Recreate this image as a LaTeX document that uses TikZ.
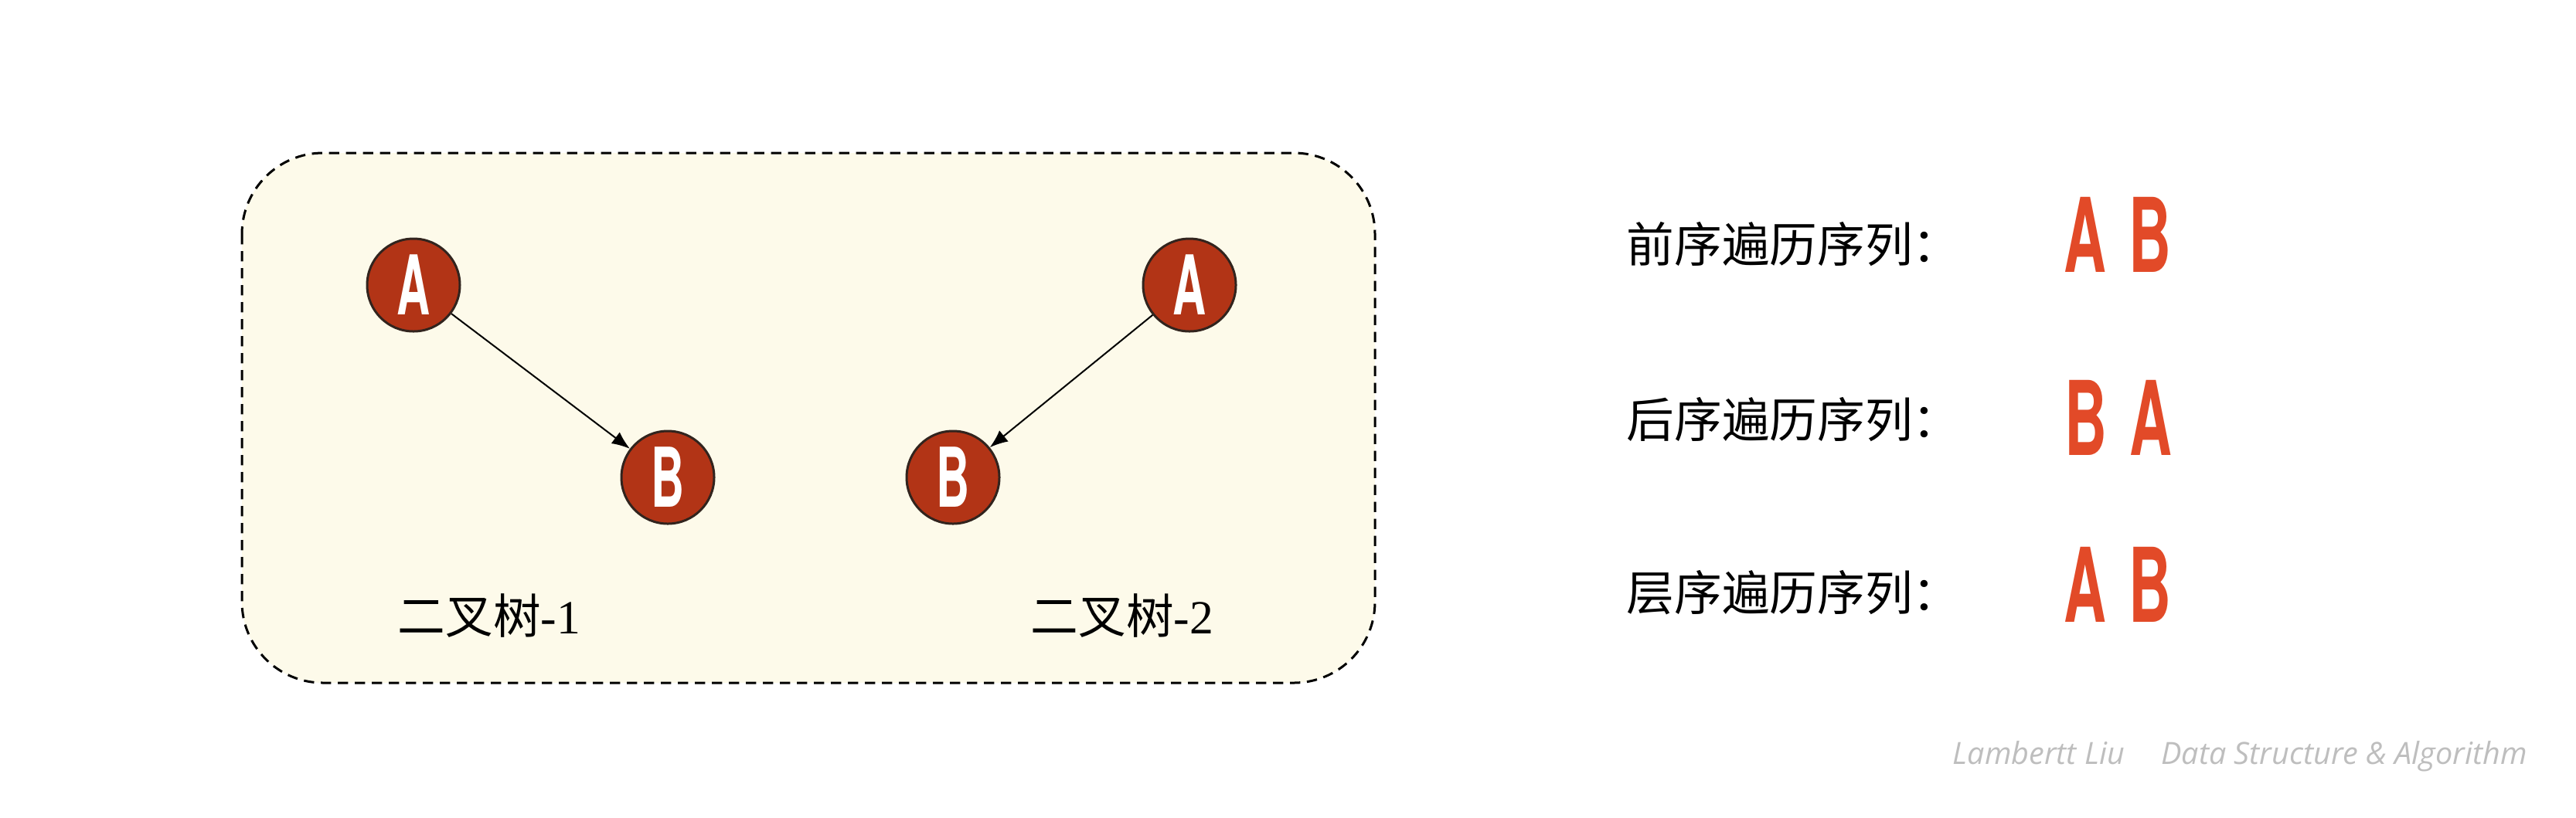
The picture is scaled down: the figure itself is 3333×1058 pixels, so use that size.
\documentclass[tikz,border=0pt]{standalone}
\usepackage{graphicx}
\usepackage{fontspec}
\setmainfont{Liberation Serif}
\newfontfamily\cjk{Noto Sans CJK SC}
\newfontfamily\heros{TeX Gyre Heros}
\newfontfamily\wmfont{Open Sans}
\usetikzlibrary{arrows.meta}
\definecolor{boxfill}{RGB}{253,250,234}
\definecolor{nodefill}{RGB}{178,52,22}
\definecolor{nodeline}{RGB}{50,36,30}
\definecolor{seqred}{RGB}{226,74,40}
\definecolor{wmgray}{RGB}{190,190,190}
\tikzset{
  treenode/.style={circle, draw=nodeline, line width=0.9pt, fill=nodefill, minimum size=36pt, inner sep=0pt,
    font=\heros\bfseries\fontsize{32}{32}\selectfont, text=white},
  arr/.style={-{Latex[length=7pt,width=5.5pt]}, line width=0.6pt, black},
  cjklabel/.style={anchor=west, inner sep=0pt, font=\fontsize{18.5}{18.5}\selectfont},
  seqletter/.style={inner sep=0pt, text=seqred, font=\heros\bfseries\fontsize{40}{40}\selectfont},
}
\newcommand{\cond}[1]{\scalebox{0.56}[1]{#1}}
\newcommand{\condb}[1]{\scalebox{0.57}[1]{#1}}
\begin{document}
\begin{tikzpicture}[x=0.3pt, y=-0.3pt]
\useasboundingbox (0,0) rectangle (3333,1058);
\fill[white] (0,0) rectangle (3333,1058);
% container
\draw[dash pattern=on 4pt off 2.6pt, line width=0.9pt, fill=boxfill, rounded corners=31.5pt]
  (313,198) rectangle (1779,884);
% tree 1
\node[treenode] (a1) at (535,369) {\cond{A}};
\node[treenode] (b1) at (864,618) {\cond{B}};
\draw[arr] (a1) -- (b1);
\node[cjklabel] (l1) at (514,797) {{\cjk 二叉树}-1};
% tree 2
\node[treenode] (a2) at (1539,369) {\cond{A}};
\node[treenode] (b2) at (1233,618) {\cond{B}};
\draw[arr] (a2) -- (b2);
\node[cjklabel] (l2) at (1333,797) {{\cjk 二叉树}-2};
% sequences
\node[cjklabel] (t1) at (2104,316) {\cjk 前序遍历序列：};
\node[cjklabel] (t2) at (2104,543) {\cjk 后序遍历序列：};
\node[cjklabel] (t3) at (2104,767) {\cjk 层序遍历序列：};
\node[seqletter] (s1a) at (2698,304) {\condb{A}};
\node[seqletter] (s1b) at (2782,304) {\condb{B}};
\node[seqletter] (s2b) at (2699,541) {\condb{B}};
\node[seqletter] (s2a) at (2783,541) {\condb{A}};
\node[seqletter] (s3a) at (2698,757) {\condb{A}};
\node[seqletter] (s3b) at (2782,757) {\condb{B}};
% watermark
\node[anchor=west, inner sep=0pt, text=wmgray] (wm) at (2526,979)
  {\resizebox{222.9pt}{!}{\wmfont\itshape Lambertt Liu\hspace{1.2em}Data Structure \& Algorithm}};
\end{tikzpicture}
\end{document}
